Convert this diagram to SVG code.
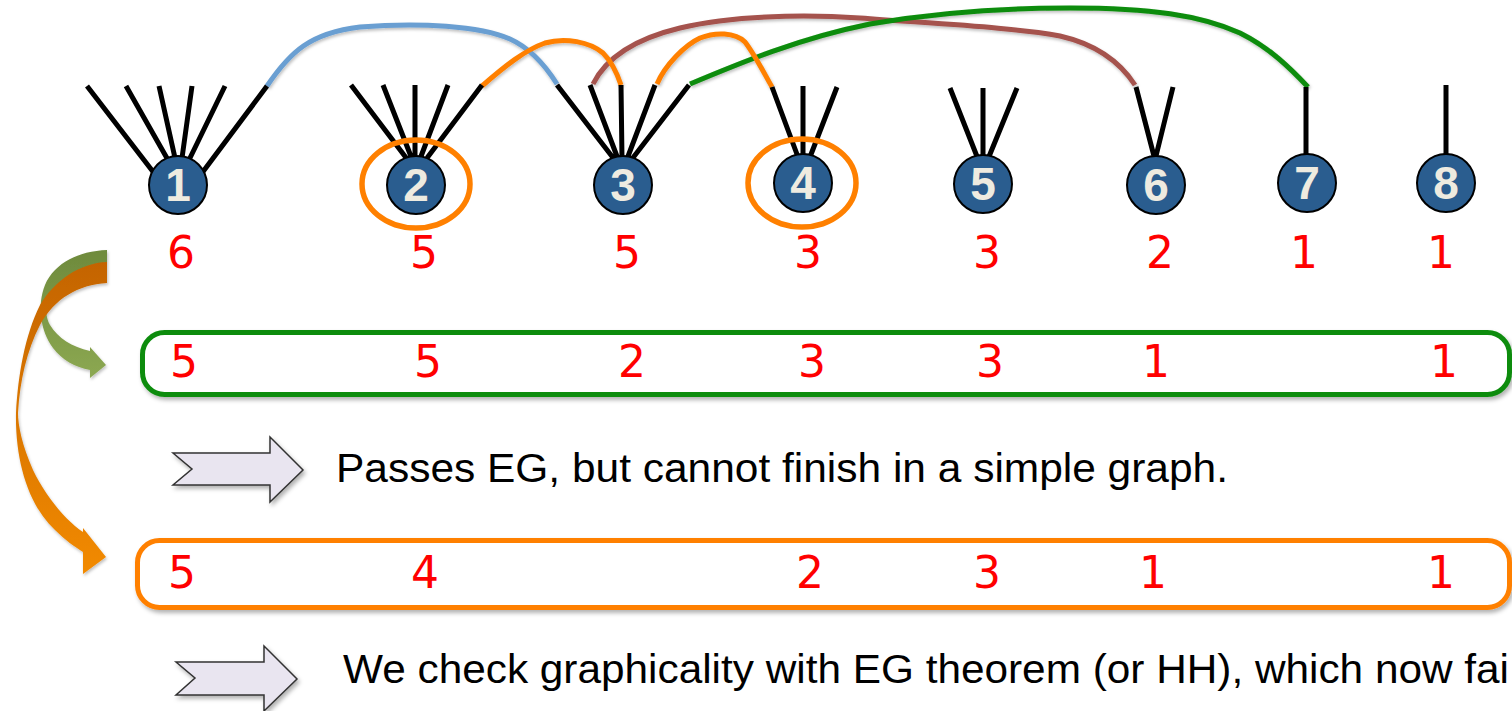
<svg xmlns="http://www.w3.org/2000/svg" width="1512" height="711" viewBox="0 0 1512 711">
  <defs>
    <filter id="shadow" x="-10%" y="-20%" width="120%" height="150%">
      <feDropShadow dx="2" dy="3" stdDeviation="2" flood-color="#000" flood-opacity="0.3"/>
    </filter>
    <filter id="soft" x="-5%" y="-20%" width="110%" height="150%">
      <feDropShadow dx="1" dy="2" stdDeviation="1.5" flood-color="#000" flood-opacity="0.25"/>
    </filter>
    <linearGradient id="gOlive" x1="0" y1="0" x2="0" y2="1">
      <stop offset="0" stop-color="#6e8a3c"/>
      <stop offset="1" stop-color="#8ca852"/>
    </linearGradient>
    <linearGradient id="gOrange" x1="0" y1="0" x2="0" y2="1">
      <stop offset="0" stop-color="#c46400"/>
      <stop offset="1" stop-color="#f28a00"/>
    </linearGradient>
    <style>
      .spoke { stroke: #000; stroke-width: 5; fill: none; }
      .node circle { fill: #2a5d8f; stroke: #000; stroke-width: 2; }
      .node text { font-family: "Liberation Sans", Arial, sans-serif; font-weight: bold; font-size: 46px; fill: #eeebe0; text-anchor: middle; }
      .ring { fill: none; stroke: #ff8000; stroke-width: 5.5; }
      .edge { fill: none; stroke-width: 5; stroke-linecap: butt; }
      .deg { font-family: "Comic Sans MS", "DejaVu Sans", sans-serif; font-size: 44px; fill: #ff0000; text-anchor: middle; }
      .note { font-family: "Liberation Sans", Arial, sans-serif; font-size: 40px; fill: #000; }
      .block { fill: #e9e5f0; stroke: #333; stroke-width: 1.5; }
    </style>
  </defs>

  <rect width="1512" height="711" fill="#fff"/>

  <!-- edges joining the stubs -->
  <g id="connectors" filter="url(#soft)">
    <path class="edge" stroke="#6a9fd2" d="M267,86 C290,52 310,33 360,27 C420,22 480,26 510,39 C530,48 545,65 557,84"/>
    <path class="edge" stroke="#a5524d" d="M593,84 C605,60 630,40 680,28 C730,16 800,14 860,18 C940,24 1020,28 1060,36 C1095,44 1120,62 1135,85"/>
    <path class="edge" stroke="#0a8c0a" d="M690,84 C740,63 800,38 870,24 C940,12 1000,8 1070,8 C1150,8 1200,15 1240,33 C1270,48 1290,68 1308,87"/>
    <path class="edge" stroke="#ff8000" d="M482,86 C505,66 525,50 545,43 C565,37 590,42 603,53 C612,62 617,73 621,85"/>
    <path class="edge" stroke="#ff8000" d="M657,84 C665,65 685,45 700,38 C715,32 735,32 745,42 C755,55 765,75 772,87"/>
  </g>

  <!-- vertices with their edge stubs -->
  <g id="node1" class="node">
    <path class="spoke" d="M87,86 L154,173 M126,86 L168,160 M159,86 L175,158 M192,86 L182,158 M225,86 L189,160 M267,86 L202,173"/>
    <circle cx="178" cy="185" r="29"/>
    <text x="178" y="201">1</text>
  </g>
  <g id="node2" class="node">
    <path class="spoke" d="M351,85 L407,159 M383,85 L412,159 M415,85 L415,159 M448,85 L420,159 M482,85 L427,158"/>
    <circle cx="416" cy="185" r="29"/>
    <text x="416" y="201">2</text>
    <ellipse class="ring" cx="416" cy="184" rx="54" ry="44"/>
  </g>
  <g id="node3" class="node">
    <path class="spoke" d="M557,85 L614,159 M590,85 L618,159 M621,85 L622,159 M655,85 L627,159 M689,85 L632,159"/>
    <circle cx="623" cy="185" r="29"/>
    <text x="623" y="201">3</text>
  </g>
  <g id="node4" class="node">
    <path class="spoke" d="M772,87 L798,157 M803,86 L803,157 M837,87 L810,157"/>
    <circle cx="803" cy="183" r="29"/>
    <text x="803" y="199">4</text>
    <ellipse class="ring" cx="802" cy="183" rx="54" ry="44"/>
  </g>
  <g id="node5" class="node">
    <path class="spoke" d="M950,88 L978,159 M983,88 L983,159 M1017,88 L988,159"/>
    <circle cx="983" cy="184" r="29"/>
    <text x="983" y="200">5</text>
  </g>
  <g id="node6" class="node">
    <path class="spoke" d="M1136,87 L1155,160 M1173,87 L1155,160"/>
    <circle cx="1156" cy="185" r="29"/>
    <text x="1156" y="201">6</text>
  </g>
  <g id="node7" class="node">
    <path class="spoke" d="M1306,87 L1306,158"/>
    <circle cx="1307" cy="183" r="29"/>
    <text x="1307" y="199">7</text>
  </g>
  <g id="node8" class="node">
    <path class="spoke" d="M1446,85 L1446,158"/>
    <circle cx="1446" cy="183" r="29"/>
    <text x="1446" y="199">8</text>
  </g>

  <!-- degree sequence -->
  <g id="degrees" class="deg">
    <text x="181" y="268">6</text>
    <text x="424" y="268">5</text>
    <text x="627" y="268">5</text>
    <text x="808" y="268">3</text>
    <text x="987" y="268">3</text>
    <text x="1160" y="268">2</text>
    <text x="1304" y="268">1</text>
    <text x="1441" y="268">1</text>
  </g>

  <!-- curved arrows leading to the two reduced sequences -->
  <g id="curved-arrows" filter="url(#soft)">
    <path fill="url(#gOlive)" d="M107,250 C80,251 55,262 45,285 C37,305 40,330 53,348 C62,360 75,367 90,370 L90,378 L106,365 L90,347 L90,351 C72,347 58,338 50,325 C42,310 48,292 60,286 C75,283 90,283 107,283 Z"/>
    <path fill="url(#gOrange)" d="M107,262 C80,263 55,280 40,305 C25,335 18,375 16,413 C15,460 28,505 55,530 C65,540 75,547 83,552 L83,574 L106,557 L83,528 L83,532 C65,520 45,495 33,470 C22,445 18,425 18,413 C20,380 27,350 40,325 C55,298 78,285 107,283 Z"/>
  </g>

  <!-- first reduced sequence -->
  <g id="seq-green">
    <rect x="142.5" y="332.5" width="1367" height="62" rx="22" fill="#fff" stroke="#0a8c0a" stroke-width="5" filter="url(#shadow)"/>
    <g class="deg">
      <text x="184" y="377">5</text>
      <text x="428" y="377">5</text>
      <text x="632" y="377">2</text>
      <text x="812" y="377">3</text>
      <text x="990" y="377">3</text>
      <text x="1156" y="377">1</text>
      <text x="1444" y="377">1</text>
    </g>
  </g>

  <!-- first remark -->
  <g id="note1">
    <path class="block" filter="url(#shadow)" d="M173,453 L270,453 L270,437 L303,470 L270,502 L270,485 L173,485 L192,469 Z"/>
    <text class="note" x="336" y="482" textLength="892" lengthAdjust="spacingAndGlyphs">Passes EG, but cannot finish in a simple graph.</text>
  </g>

  <!-- second reduced sequence -->
  <g id="seq-orange">
    <rect x="137.5" y="540.5" width="1372" height="67" rx="22" fill="#fff" stroke="#ff8000" stroke-width="5" filter="url(#shadow)"/>
    <g class="deg">
      <text x="182" y="588">5</text>
      <text x="425" y="588">4</text>
      <text x="810" y="588">2</text>
      <text x="987" y="588">3</text>
      <text x="1153" y="588">1</text>
      <text x="1441" y="588">1</text>
    </g>
  </g>

  <!-- second remark -->
  <g id="note2">
    <path class="block" filter="url(#shadow)" d="M176,662 L264,662 L264,646 L297,679 L264,711 L264,695 L176,695 L195,678 Z"/>
    <text class="note" x="343" y="683" textLength="1166" lengthAdjust="spacingAndGlyphs">We check graphicality with EG theorem (or HH), which now fai</text>
  </g>
</svg>
